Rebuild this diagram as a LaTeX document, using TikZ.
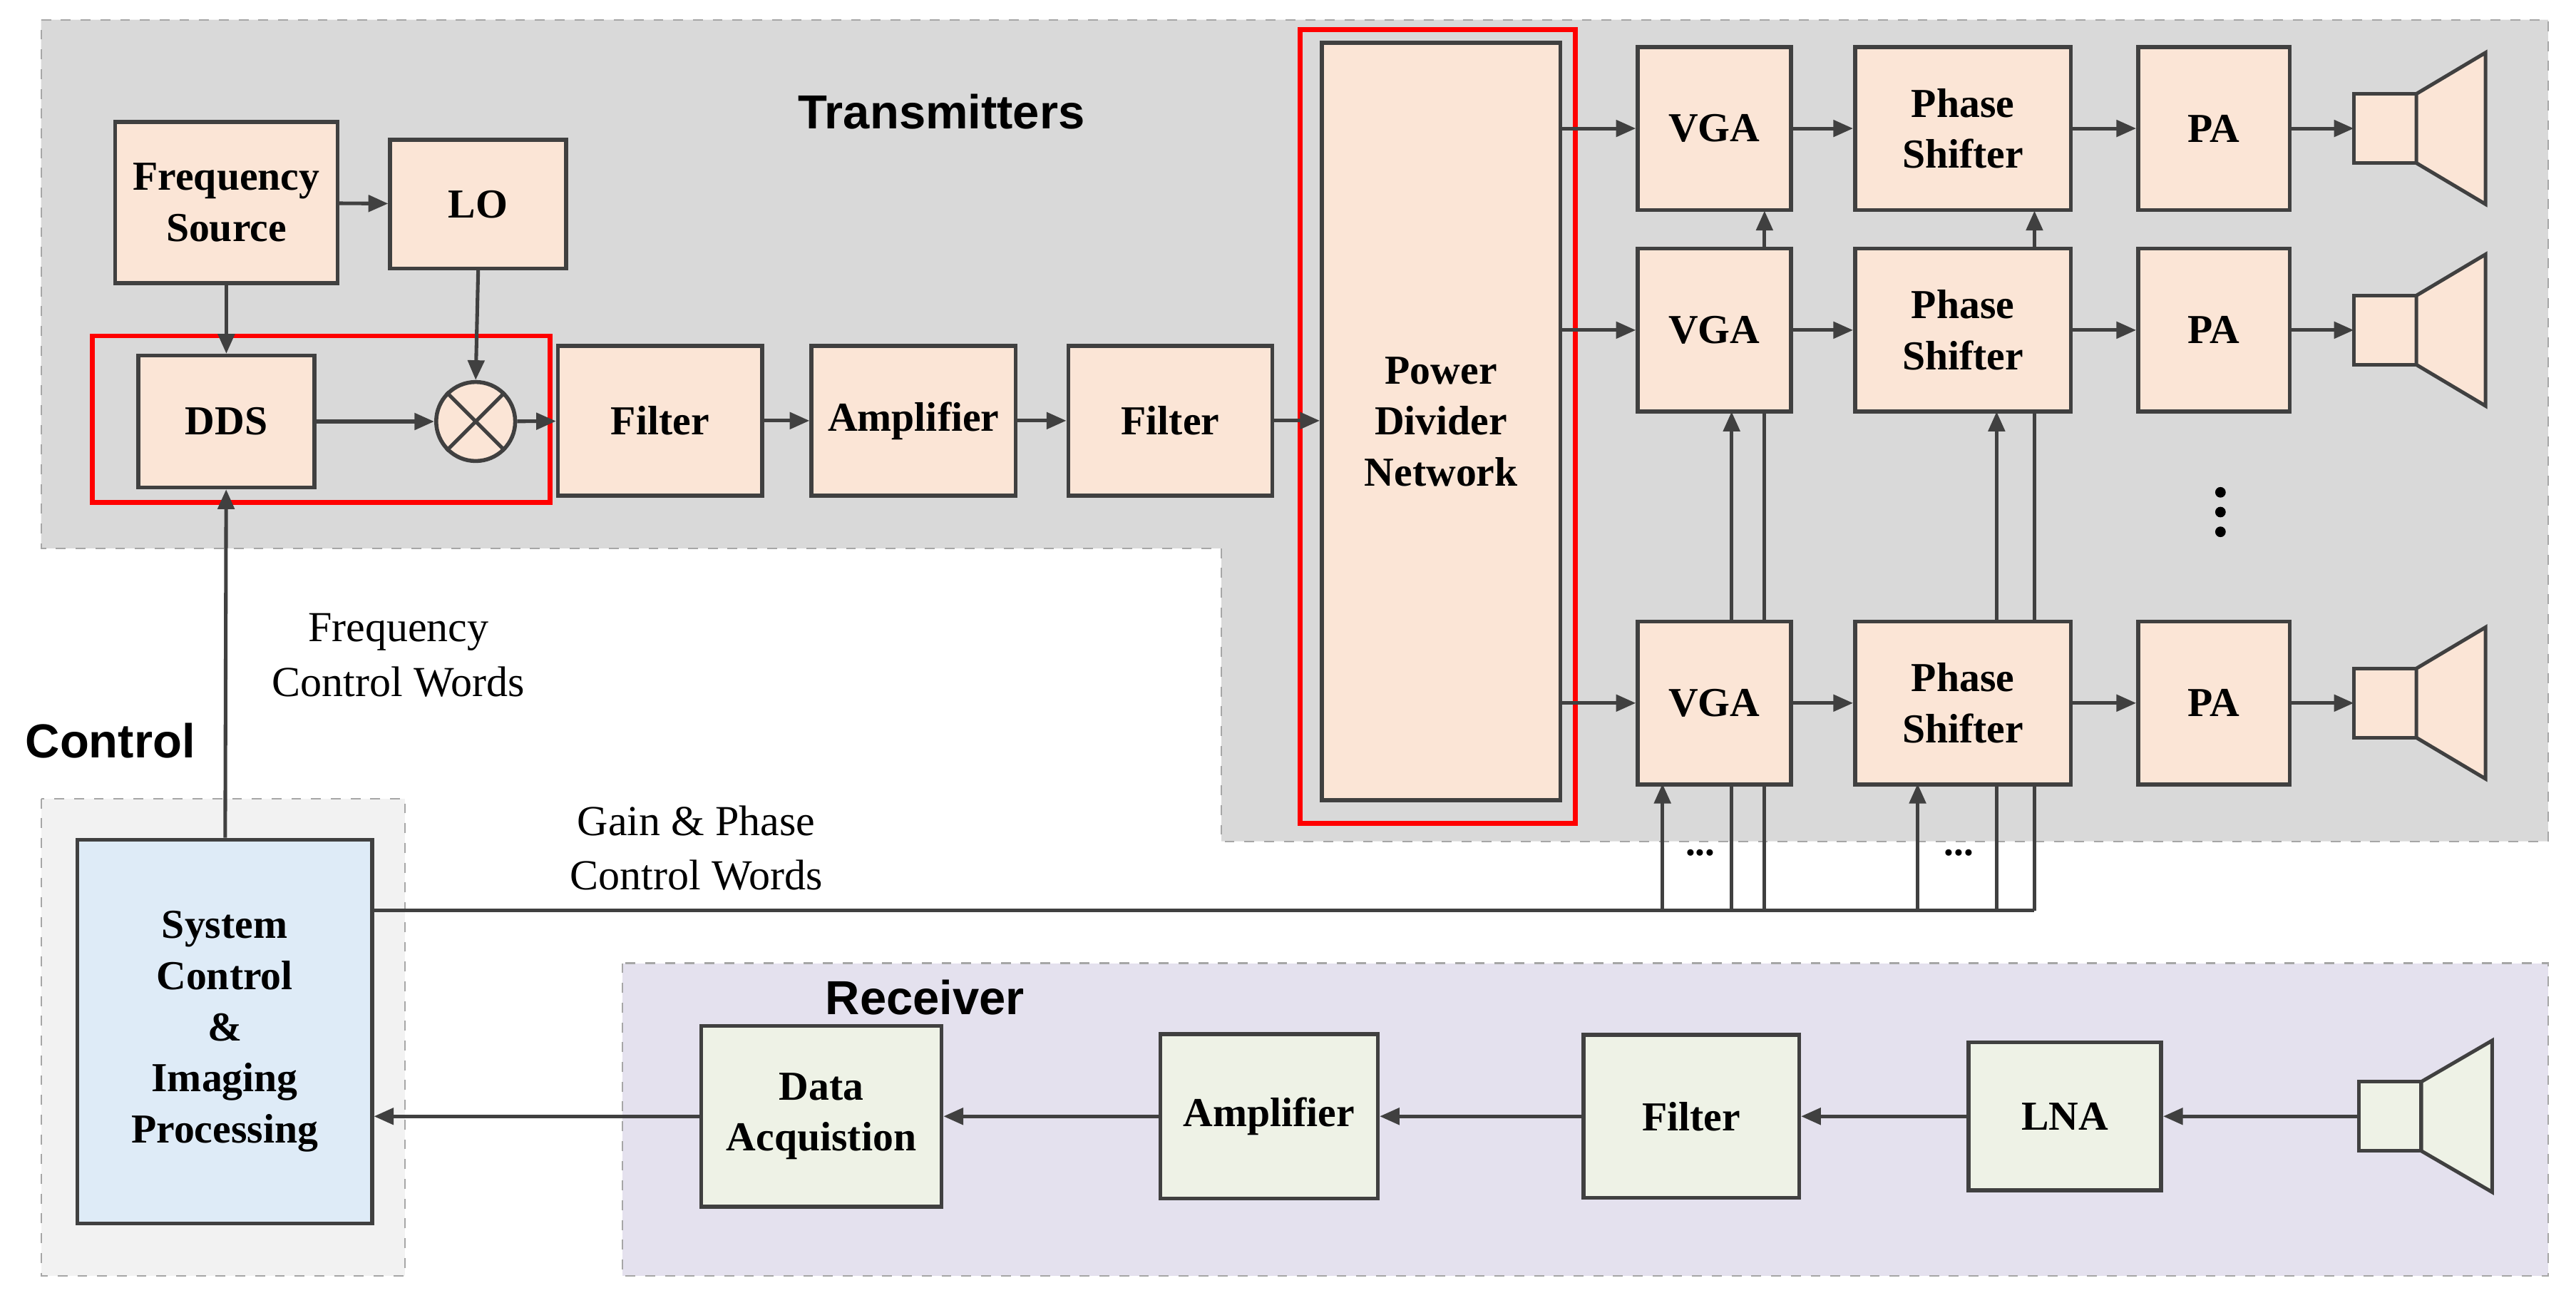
\documentclass[tikz,border=0pt]{standalone}
\usepackage{fontspec}
\setmainfont{Liberation Serif}
\newfontfamily\sansf{Liberation Sans}
\usetikzlibrary{arrows.meta}
\definecolor{peach}{HTML}{FBE5D6}
\definecolor{ln}{HTML}{404040}
\definecolor{blu}{HTML}{DEEBF7}
\definecolor{grn}{HTML}{EEF2E6}
\definecolor{lav}{HTML}{E4E1EE}
\begin{document}
\begin{tikzpicture}[x=0.5pt,y=-0.5pt,
 box/.style={draw=ln,line width=1.2pt,fill=peach,inner sep=0pt,align=center,font=\bfseries\fontsize{12.5}{15.5}\selectfont},
 gbox/.style={box,fill=grn},
 arr/.style={draw=ln,line width=1.1pt,-{Triangle[length=6pt,width=5pt]}},
 ln/.style={draw=ln,line width=1.1pt},
 reg/.style={draw=gray!70,dashed,line width=0.5pt},
 ttl/.style={font=\sansf\bfseries\fontsize{14.5}{16}\selectfont},
 lab/.style={align=center,font=\fontsize{13}{16.5}\selectfont},
 horn/.style={draw=ln,line width=1.1pt,fill=peach}]
\useasboundingbox (0,0) rectangle (1565,788);
% regions
\path[reg,fill=black!15] (25,12) -- (1548,12) -- (1548,511) -- (742,511) -- (742,333) -- (25,333) -- cycle;
\path[reg,fill=black!5] (25,485) rectangle (246,775);
\path[reg,fill=lav] (378,585) rectangle (1548,775);
\node[ttl] (tt) at (572,68) {Transmitters};
\node[ttl] (tc) at (67,450) {Control};
\node[ttl] (tr) at (562,606) {Receiver};
% control lines (behind boxes)
\coordinate (g0) at (226,553);
\draw[ln] (g0) -- (1236,553);
\foreach \x/\t in {1010/476,1052/250,1072/128,1165/476,1213/250,1236/128}
  \draw[arr] (\x,553) -- (\x,\t);
\node[font=\bfseries\fontsize{12}{12}\selectfont] (d1) at (1033,518) {...};
\node[font=\bfseries\fontsize{12}{12}\selectfont] (d2) at (1190,518) {...};
% boxes
\node[box,minimum width=67.5pt,minimum height=49pt] (fs) at (137.5,123) {Frequency\\Source};
\node[box,minimum width=53.5pt,minimum height=39pt] (lo) at (290.5,124) {LO};
\node[box,minimum width=53.5pt,minimum height=40pt] (dds) at (137.5,256) {DDS};
\node[draw=ln,line width=1.2pt,fill=peach,circle,minimum size=24pt,inner sep=0pt] (mx) at (289,256) {};
\draw[ln] (mx.north west) -- (mx.south east) (mx.north east) -- (mx.south west);
\node[box,minimum width=62pt,minimum height=45.5pt] (f1) at (401,255.5) {Filter};
\node[box,minimum width=62pt,minimum height=45.5pt] (a1) at (555,255.5) {Amplifier};
\node[box,minimum width=62pt,minimum height=45.5pt] (f2) at (711,255.5) {Filter};
\node[box,minimum width=72.5pt,minimum height=230pt] (pdn) at (875.5,256) {Power\\Divider\\Network};
\draw[red,line width=1.5pt] (790,18) rectangle (957,500);
\draw[red,line width=1.5pt] (56,204) rectangle (334,305);
\foreach \i/\y in {1/78,2/200.5,3/427}{
 \node[box,minimum width=46.5pt,minimum height=49.5pt] (v\i) at (1041.5,\y) {VGA};
 \node[box,minimum width=65.5pt,minimum height=49.5pt] (p\i) at (1192.5,\y) {Phase\\Shifter};
 \node[box,minimum width=46pt,minimum height=49.5pt] (pa\i) at (1345,\y) {PA};
 \coordinate (h\i) at (1430,\y);
 \draw[horn] (1430,\y-21) rectangle (1468,\y+21);
 \draw[horn] (1468,\y-21) -- (1510,\y-46) -- (1510,\y+46) -- (1468,\y+21) -- cycle;
 \coordinate (pd\i) at (pdn.east |- v\i);
 \draw[arr] (pd\i) -- (v\i);
 \draw[arr] (v\i) -- (p\i);
 \draw[arr] (p\i) -- (pa\i);
 \draw[arr] (pa\i) -- (h\i);
}
\foreach \y in {299,311,323} \fill[black] (1349,\y) circle (1.6pt);
\node[box,fill=blu,minimum width=89.5pt,minimum height=116.5pt] (sc) at (136.5,626.5) {System\\Control\\\&\\Imaging\\Processing};
\node[gbox,minimum width=73pt,minimum height=55pt] (da) at (499,678) {Data\\Acquistion};
\node[gbox,minimum width=66pt,minimum height=50pt] (a2) at (771,678) {Amplifier};
\node[gbox,minimum width=65.5pt,minimum height=49.5pt] (fr) at (1027.5,678) {Filter};
\node[gbox,minimum width=58.5pt,minimum height=45pt] (lna) at (1254.5,678) {LNA};
\draw[horn,fill=grn] (1433,657) rectangle (1471,699);
\draw[horn,fill=grn] (1471,657) -- (1514,632) -- (1514,724) -- (1471,699) -- cycle;
\coordinate (hr) at (1433,678);
% arrows
\draw[arr] (fs) -- (lo);
\draw[arr] (fs) -- (dds);
\draw[arr] (lo.south) -- (mx.north);
\draw[arr] (dds) -- (mx);
\draw[arr] (mx) -- (f1);
\draw[arr] (f1) -- (a1);
\draw[arr] (a1) -- (f2);
\draw[arr] (f2) -- (pdn.west |- f2);
\draw[arr] (sc) -- (dds);
\draw[arr] (hr) -- (lna);
\draw[arr] (lna) -- (fr);
\draw[arr] (fr) -- (a2);
\draw[arr] (a2) -- (da);
\draw[arr] (da) -- (sc.east |- da);
\node[lab] (l1) at (242,398) {Frequency\\Control Words};
\node[lab] (l2) at (423,515) {Gain \& Phase\\Control Words};
\end{tikzpicture}
\end{document}
